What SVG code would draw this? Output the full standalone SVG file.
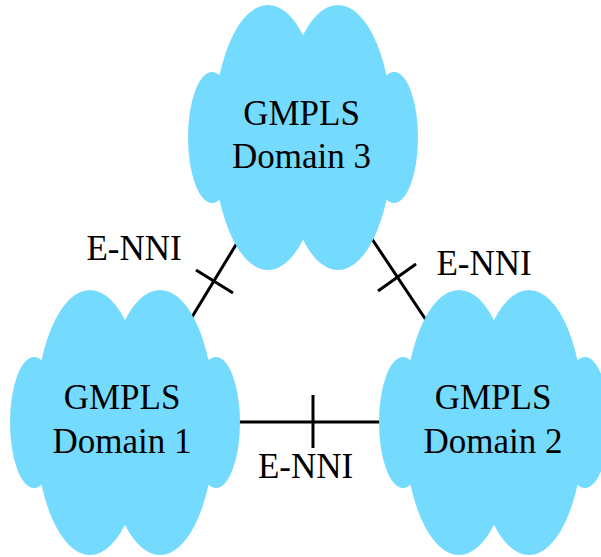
<svg xmlns="http://www.w3.org/2000/svg" width="601" height="557" viewBox="0 0 601 557">
<style>
.cloud ellipse{fill:#74dbfe;stroke:none}
.lbl{font-family:"Liberation Serif","Times New Roman",serif;font-size:35px;fill:#000;text-anchor:middle}
.conn line{stroke:#000;stroke-width:3;stroke-linecap:butt}
</style>
<defs>
<g id="cloudShape" class="cloud">
<ellipse cx="-35" cy="0" rx="55" ry="132.5"/>
<ellipse cx="35" cy="0" rx="55" ry="132.5"/>
<ellipse cx="-91" cy="0" rx="24" ry="65.5"/>
<ellipse cx="91" cy="0" rx="24" ry="65.5"/>
</g>
</defs>
<rect width="601" height="557" fill="#fff"/>
<g id="connectors" class="conn">
<line x1="237" y1="243" x2="192" y2="317"/>
<line x1="196" y1="270" x2="233" y2="293"/>
<line x1="372" y1="239" x2="426" y2="320"/>
<line x1="378" y1="291" x2="416" y2="264"/>
<line x1="238" y1="422" x2="381" y2="422"/>
<line x1="313" y1="395" x2="313" y2="448"/>
</g>
<g id="domain3">
<use href="#cloudShape" transform="translate(303,137.5)"/>
<text class="lbl" x="301.5" y="125">GMPLS</text>
<text class="lbl" x="301.5" y="168">Domain 3</text>
</g>
<g id="domain1">
<use href="#cloudShape" transform="translate(125,422.5)"/>
<text class="lbl" x="122" y="409">GMPLS</text>
<text class="lbl" x="122" y="453">Domain 1</text>
</g>
<g id="domain2">
<use href="#cloudShape" transform="translate(494,422.5)"/>
<text class="lbl" x="493" y="409">GMPLS</text>
<text class="lbl" x="493" y="453">Domain 2</text>
</g>
<g id="labels">
<text class="lbl" x="134" y="260">E-NNI</text>
<text class="lbl" x="484" y="275">E-NNI</text>
<text class="lbl" x="305.5" y="478">E-NNI</text>
</g>
</svg>
